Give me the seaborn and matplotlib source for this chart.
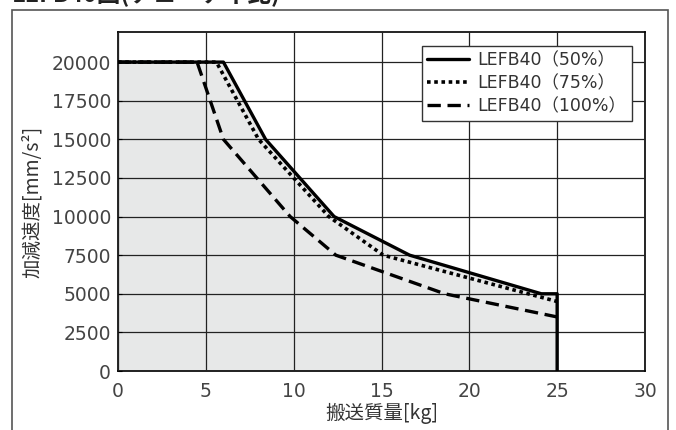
import pandas as pd
import seaborn as sns
import matplotlib.pyplot as plt
from matplotlib.patches import Rectangle


TITLE = "LEFB40図(デューティ比)"
X_LABEL = "搬送質量[kg]"
Y_LABEL = "加減速度[mm/s²]"

MASS_50 = [0, 6, 8.4, 12.3, 16.6, 24.1, 25, 25]
ACC_50 = [20000, 20000, 15000, 10000, 7500, 5000, 5000, 0]

MASS_75 = [0, 5.6, 8, 12, 15.1, 25]
ACC_75 = [20000, 20000, 15000, 10000, 7500, 4500]

MASS_100 = [0, 4.5, 6, 9.8, 12.4, 18.6, 25]
ACC_100 = [20000, 20000, 15000, 10000, 7500, 5000, 3500]

LABELS = ["LEFB40（50%）", "LEFB40（75%）", "LEFB40（100%）"]
X_TICKS = [0, 5, 10, 15, 20, 25, 30]
Y_TICKS = [0, 2500, 5000, 7500, 10000, 12500, 15000, 17500, 20000]

CJK = ["Noto Sans CJK JP", "DejaVu Sans"]


def make_chart():
    sns.set_style("ticks")
    plt.rcParams["font.family"] = ["DejaVu Sans", "Noto Sans CJK JP"]

    fig = plt.figure(figsize=(6.76, 4.30), dpi=100)
    ax = fig.add_axes([0.1746, 0.1372, 0.7795, 0.7884])

    # outer frame of the original figure, cut at the bottom
    fig.patches.append(Rectangle((12 / 676, -0.1), 656 / 676, 1.1 - 10 / 430,
                                 transform=fig.transFigure, fill=False,
                                 edgecolor="#555555", linewidth=1.2))
    # title is cut by the top edge in the original
    fig.text(12 / 676, 1 - 2 / 430, TITLE, fontsize=17, fontweight="bold",
             va="baseline", ha="left", color="#222222", family=CJK)

    ax.fill_between(MASS_50, ACC_50, 0, color="#e7e8e8", zorder=0)

    df50 = pd.DataFrame({"mass": MASS_50, "acc": ACC_50})
    df75 = pd.DataFrame({"mass": MASS_75, "acc": ACC_75})
    df100 = pd.DataFrame({"mass": MASS_100, "acc": ACC_100})

    sns.lineplot(data=df50, x="mass", y="acc", ax=ax, color="black",
                 linewidth=2.4, sort=False, estimator=None, label=LABELS[0], zorder=4)
    sns.lineplot(data=df75, x="mass", y="acc", ax=ax, color="black",
                 linewidth=2.6, linestyle=(0, (1, 1)), sort=False, estimator=None,
                 label=LABELS[1], zorder=4)
    sns.lineplot(data=df100, x="mass", y="acc", ax=ax, color="black",
                 linewidth=2.4, linestyle=(0, (4, 2)), sort=False, estimator=None,
                 label=LABELS[2], zorder=4)

    ax.set_xlim(0, 30)
    ax.set_ylim(0, 21950)
    ax.set_xticks(X_TICKS)
    ax.set_yticks(Y_TICKS)
    ax.tick_params(axis="both", direction="in", length=3, labelsize=13.5,
                   colors="black", labelcolor="#444444")
    ax.tick_params(axis="y", pad=5)
    ax.tick_params(axis="x", pad=8, length=0)
    ax.grid(True, color="#222222", linewidth=0.9)
    ax.set_axisbelow(False)
    for spine in ax.spines.values():
        spine.set_visible(True)
        spine.set_color("black")
        spine.set_linewidth(1.2)

    ax.set_xlabel(X_LABEL, fontsize=14, color="#333333", labelpad=1, family=CJK)
    ax.set_ylabel(Y_LABEL, fontsize=14, color="#333333", labelpad=6, family=CJK)

    leg = ax.legend(loc="upper right", bbox_to_anchor=(0.975, 0.959), fontsize=12.5,
                    frameon=True, fancybox=False, handlelength=2.4,
                    borderpad=0.3, labelspacing=0.3, handletextpad=0.5,
                    borderaxespad=0)
    leg.get_frame().set_edgecolor("#333333")
    leg.get_frame().set_linewidth(1.0)
    leg.get_frame().set_alpha(1)
    leg.set_zorder(6)
    for text in leg.get_texts():
        text.set_color("#333333")

    fig.savefig("out.png", dpi=100)


if __name__ == "__main__":
    make_chart()
